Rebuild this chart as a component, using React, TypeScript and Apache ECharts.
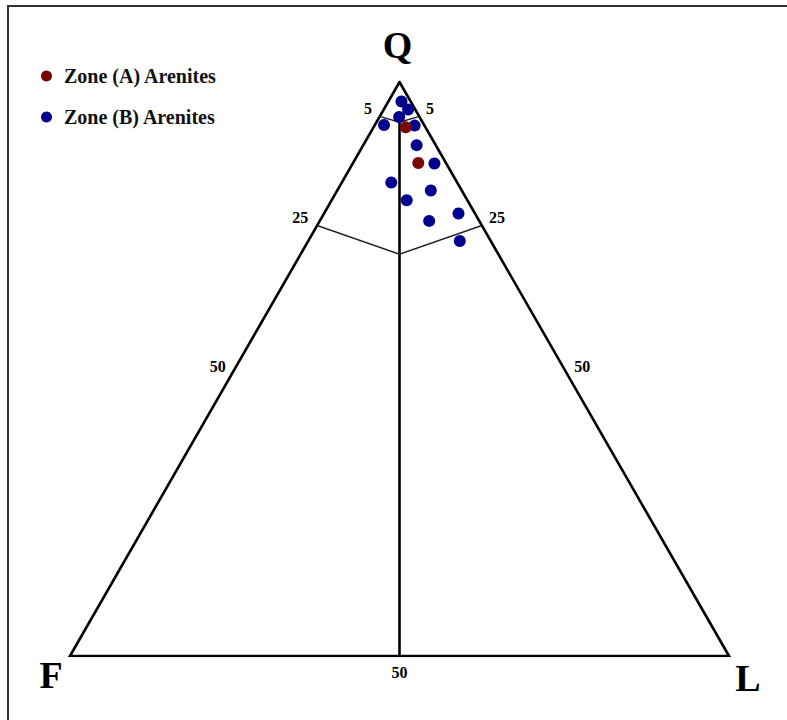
import React, { useEffect, useRef } from "react";
import * as echarts from "echarts";

// Zone (A) Arenites — Q, F, L percentages
const ZONE_A_Q = [92.1, 85.9];
const ZONE_A_F = [3.0, 4.2];
const ZONE_A_L = [4.9, 9.9];

// Zone (B) Arenites — Q, F, L percentages
const ZONE_B_Q = [96.6, 95.2, 93.9, 92.5, 92.4, 89.0, 85.8, 82.5, 81.1, 79.4, 77.1, 75.8, 72.3];
const ZONE_B_F = [1.4, 1.1, 3.1, 6.1, 1.5, 2.9, 1.8, 10.0, 4.7, 9.2, 2.5, 7.6, 4.7];
const ZONE_B_L = [2.0, 3.7, 3.0, 1.4, 6.1, 8.1, 12.4, 7.5, 14.2, 11.4, 20.4, 16.6, 23.0];

// Diagram frame lines, [Q, F, L]
const OUTLINE = [[0, 50, 50], [0, 0, 100], [100, 0, 0], [0, 100, 0], [0, 50, 50]];
const MEDIAN = [[0, 50, 50], [93, 3.5, 3.5]];
const FIELD_25 = [[75, 25, 0], [70, 15, 15], [75, 0, 25]];
const FIELD_5 = [[94, 6, 0], [93, 3.5, 3.5], [94, 0, 6]];

// Tick labels: text, anchor [Q, F, L]
const TICK_LABELS = ["5", "25", "50", "5", "25", "50", "50"];
const TICK_ANCHORS = [
  [95, 5, 0], [75, 25, 0], [50, 50, 0],
  [95, 0, 5], [75, 0, 25], [50, 0, 50],
  [0, 50, 50],
];
const TICK_OFFSETS = [[-15, -2], [-17, -8], [-17, -3], [14, -2], [15, -8], [18, -3], [0, 16]];

const VERTEX_LABELS = ["Q", "F", "L"];
const VERTEX_ANCHORS = [[100, 0, 0], [0, 100, 0], [0, 0, 100]];
const VERTEX_OFFSETS = [[-2, -37], [-19, 19], [19, 22]];

const SERIF = "'Liberation Serif', 'Times New Roman', Times, serif";

function toXY(q: number, f: number, l: number): [number, number] {
  const s = q + f + l;
  return [(l + q / 2) / s, q / s];
}
const pts = (arr: number[][]) => arr.map((p) => toXY(p[0], p[1], p[2]));

export default function App() {
  const ref = useRef<HTMLDivElement>(null);
  useEffect(() => {
    if (!ref.current) return;
    const chart = echarts.init(ref.current, undefined, { renderer: "svg" });
    const lineSeries = (data: number[][], width: number, color: string) => ({
      type: "line",
      data: pts(data),
      showSymbol: false,
      symbol: "none",
      silent: true,
      z: 1,
      lineStyle: { width, color, join: "miter", miterLimit: 20, cap: "butt" },
    });
    const zoneA = ZONE_A_Q.map((q, i) => toXY(q, ZONE_A_F[i], ZONE_A_L[i]));
    const zoneB = ZONE_B_Q.map((q, i) => toXY(q, ZONE_B_F[i], ZONE_B_L[i]));
    const tickData = TICK_LABELS.map((t, i) => ({
      name: t,
      value: toXY(TICK_ANCHORS[i][0], TICK_ANCHORS[i][1], TICK_ANCHORS[i][2]),
      label: { offset: TICK_OFFSETS[i] },
    }));
    const vertexData = VERTEX_LABELS.map((t, i) => ({
      name: t,
      value: toXY(VERTEX_ANCHORS[i][0], VERTEX_ANCHORS[i][1], VERTEX_ANCHORS[i][2]),
      label: { offset: VERTEX_OFFSETS[i] },
    }));
    const labelBase = {
      show: true,
      position: "inside",
      formatter: "{b}",
      fontFamily: SERIF,
      fontWeight: "bold",
      color: "#000",
      textBorderWidth: 0,
      textBorderColor: "transparent",
      opacity: 1,
    };
    chart.setOption({
      animation: false,
      backgroundColor: "#ffffff",
      grid: { left: 70, right: 58, top: 82, bottom: 64, containLabel: false },
      xAxis: { type: "value", min: 0, max: 1, show: false },
      yAxis: { type: "value", min: 0, max: 1, show: false },
      legend: {
        orient: "vertical",
        left: 36,
        top: 61,
        itemGap: 21,
        itemWidth: 25,
        itemHeight: 11,
        data: ["Zone (A) Arenites", "Zone (B) Arenites"],
        textStyle: { fontFamily: SERIF, fontWeight: "bold", fontSize: 20, color: "#111" },
      },
      graphic: [
        {
          type: "rect",
          shape: { x: 8, y: 6, width: 1000, height: 1000 },
          style: { fill: "none", stroke: "#333", lineWidth: 2 },
          silent: true,
        },
      ],
      series: [
        lineSeries(OUTLINE, 2.6, "#000"),
        lineSeries(MEDIAN, 2.6, "#000"),
        lineSeries(FIELD_25, 1.4, "#222"),
        lineSeries(FIELD_5, 1.4, "#222"),
        {
          name: "Zone (B) Arenites",
          type: "scatter",
          data: zoneB,
          symbol: "circle",
          symbolSize: 12,
          itemStyle: { color: "#00008e", opacity: 1 },
          z: 3,
        },
        {
          name: "Zone (A) Arenites",
          type: "scatter",
          data: zoneA,
          symbol: "circle",
          symbolSize: 12,
          itemStyle: { color: "#7a0606", opacity: 1 },
          z: 4,
        },
        {
          name: "ticks",
          type: "scatter",
          data: tickData,
          symbolSize: 1,
          silent: true,
          itemStyle: { color: "rgba(0,0,0,0)" },
          label: { ...labelBase, fontSize: 16 },
          z: 5,
        },
        {
          name: "vertices",
          type: "scatter",
          data: vertexData,
          symbolSize: 1,
          silent: true,
          itemStyle: { color: "rgba(0,0,0,0)" },
          label: { ...labelBase, fontSize: 38 },
          z: 5,
        },
      ],
    });
    return () => chart.dispose();
  }, []);
  return (
    <div
      ref={ref}
      style={{ position: "fixed", left: 0, top: 0, width: 787, height: 720, background: "#fff" }}
    />
  );
}
